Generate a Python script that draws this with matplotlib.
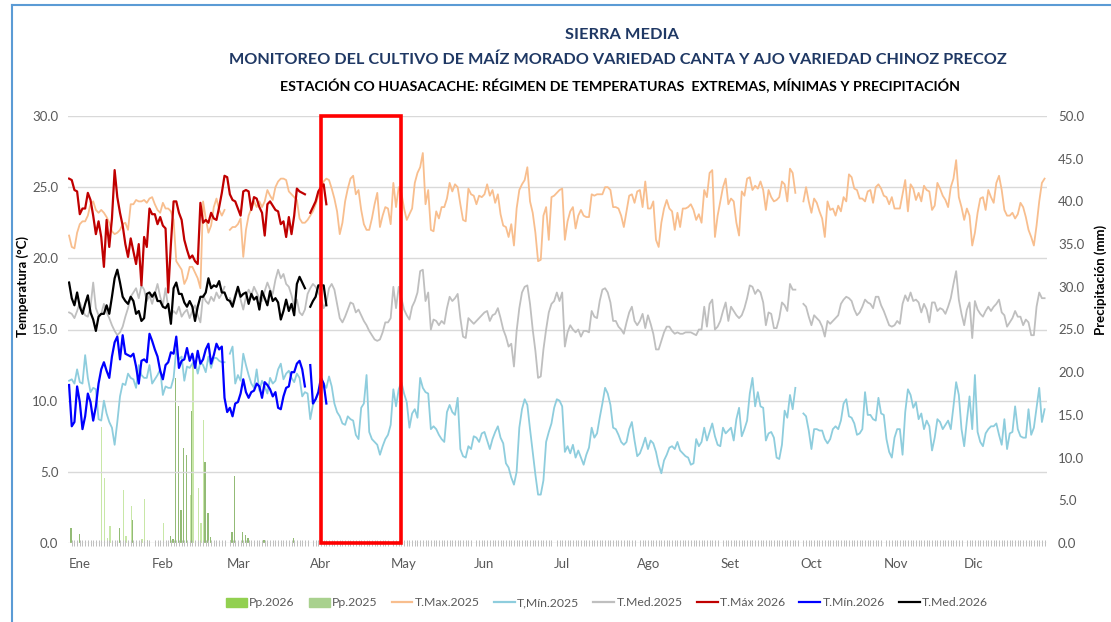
import numpy as np
import matplotlib
matplotlib.use('Agg')
import matplotlib.pyplot as plt
from matplotlib.patches import Rectangle, Patch
from matplotlib.lines import Line2D

plt.rcParams['font.family'] = ['Lato', 'DejaVu Sans']
nan = np.nan

# ---- datos diarios 2025 (dia 0 = 1 de enero) ----
tmax2025 = [
    21.6, 20.8, 20.7, 21.8, 22.4, 22.6, 22.6, 23.0, 23.8, 24.0,
    23.4, 23.2, 23.4, 23.2, 22.9, 22.5, 21.9, 21.7, 21.8, 22.0,
    22.4, 22.5, 22.0, 23.8, 23.8, 24.1, 24.0, 24.0, 24.1, 23.9,
    24.2, 24.3, 23.8, 23.4, 23.2, 23.9, 23.5, 23.5, 23.3, 22.7,
    19.8, 19.5, 19.2, 18.2, 18.6, 19.4, 19.4, 19.0, 18.6, 17.9,
    24.0, 22.8, 21.8, 22.3, 23.6, 24.2, 23.4, 23.0, 23.4, nan,
    22.0, 22.2, 22.2, 22.4, 22.8, 20.1, 22.0, 23.0, 23.5, 24.0,
    23.6, 24.0, 23.6, 24.0, 24.8, 24.4, 24.1, 25.0, 25.4, 25.6,
    25.6, 25.5, 24.7, 24.5, 24.3, 24.1, 22.8, 22.5, 22.5, 22.7,
    23.0, 23.3, 23.8, 24.4, 25.0, 25.4, 25.6, 25.5, 24.9, 24.2,
    23.3, 21.7, 22.5, 24.0, 24.9, 25.6, 25.8, 24.5, 24.8, 23.4,
    22.4, 22.0, 22.0, 22.8, 23.8, 24.6, 22.2, 23.0, 23.6, 23.5,
    22.4, 25.3, 23.6, 25.0, 24.6, 23.5, 22.7, 23.1, 23.5, 25.3,
    26.0, 26.4, 27.4, 23.8, 24.8, 22.0, 21.9, 23.3, 22.8, 23.6,
    23.6, 24.2, 25.3, 24.7, 25.2, 25.0, 23.8, 22.7, 22.6, 24.9,
    24.5, 24.4, 23.8, 24.4, 24.3, 24.5, 25.2, 24.4, 24.8, 23.9,
    24.5, 23.1, 22.3, 22.2, 21.5, 22.4, 20.9, 23.5, 24.8, 25.2,
    25.5, 26.4, 24.0, 23.2, 21.8, 19.8, 19.9, 23.0, 23.6, 21.3,
    24.3, 24.4, 24.6, 24.8, 24.9, 21.3, 22.6, 23.3, 23.6, 22.1,
    23.0, 23.4, 23.0, 22.9, 22.9, 24.5, 24.4, 24.5, 24.5, 24.5,
    25.0, 25.0, 24.8, 23.6, 23.6, 23.5, 23.0, 22.2, 23.3, 24.4,
    24.5, 23.9, 24.7, 24.8, 23.6, 25.4, 23.5, 23.5, 24.0, 21.3,
    20.8, 22.5, 23.5, 24.1, 23.5, 23.3, 22.0, 23.2, 22.2, 23.5,
    23.5, 23.6, 23.8, 23.4, 22.7, 23.1, 22.5, 24.8, 24.3, 26.0,
    26.2, 21.5, 23.0, 24.0, 25.0, 25.6, 23.8, 24.2, 24.0, 22.5,
    21.6, 24.7, 24.4, 25.6, 25.7, 24.8, 25.1, 24.9, 25.4, 24.8,
    23.4, 24.8, 24.3, 24.0, 24.1, 24.3, 25.4, 25.2, 24.0, 26.3,
    26.0, 24.6, nan, nan, 24.0, 25.0, 24.0, 23.2, 24.2, 23.9,
    23.3, 22.8, 21.5, 24.0, 23.4, 23.5, 23.0, 23.7, 23.3, 24.3,
    24.0, 25.9, 25.7, 24.9, 24.8, 24.2, 24.2, 24.0, 24.7, 24.8,
    23.9, 25.0, 25.2, 24.9, 24.4, 24.3, 23.8, 24.3, 23.5, 23.5,
    23.5, 24.5, 25.5, 23.3, 25.2, 24.9, 24.1, 24.6, 24.0, 25.1,
    24.8, 24.7, 23.4, 23.7, 25.3, 24.9, 24.4, 24.1, 23.6, 25.0,
    25.6, 26.9, 24.3, 23.6, 22.7, 23.5, 23.0, 20.9, 21.8, 23.2,
    24.2, 24.3, 23.4, 24.8, 24.3, 23.9, 25.3, 25.8, 24.8, 23.4,
    23.0, 23.0, 23.2, 22.8, 23.1, 23.9, 23.6, 22.9, 22.0, 21.5,
    20.9, 22.3, 24.0, 25.3, 25.6]

tmin2025 = [
    11.4, 11.5, 11.2, 12.2, 11.3, 11.2, 13.2, 11.6, 10.6, 10.9,
    10.8, 8.7, 8.6, 10.0, 9.1, 8.5, 8.1, 6.9, 8.5, 10.3,
    11.2, 11.1, 11.9, 11.6, 11.5, 10.9, 12.5, 11.8, 11.6, 11.6,
    12.5, 11.2, 11.5, 11.8, 12.2, 10.4, 11.0, 10.9, 10.9, 11.6,
    13.6, 12.9, 13.1, 11.4, 12.4, 12.3, 12.6, 12.8, 11.9, 12.7,
    12.5, 12.0, 13.1, 12.3, 13.0, 13.0, 12.8, 12.7, 12.7, nan,
    13.3, 13.8, 11.2, 11.8, 11.4, 13.3, 12.5, 11.8, 11.2, 10.9,
    12.2, 10.7, 11.4, 11.0, 10.5, 11.6, 11.2, 11.4, 12.2, 12.6,
    11.5, 11.9, 12.1, 11.6, 11.3, 11.9, 11.6, 10.3, 10.6, 10.5,
    8.7, 9.7, 10.1, 10.5, 10.8, 11.2, 10.9, 11.7, 11.0, 9.8,
    9.2, 8.9, 8.4, 8.3, 8.9, 8.7, 8.6, 7.6, 7.3, 9.5,
    9.8, 11.8, 7.8, 7.3, 7.1, 6.9, 6.2, 6.8, 7.3, 7.6,
    8.3, 10.8, 9.6, 10.8, 11.3, 10.5, 9.9, 8.1, 9.1, 9.4,
    8.8, 11.6, 10.9, 10.6, 10.5, 8.0, 8.2, 8.0, 7.6, 7.3,
    7.1, 9.2, 9.7, 9.2, 9.0, 10.2, 6.6, 6.1, 6.0, 6.8,
    6.6, 7.5, 7.4, 7.1, 7.7, 7.8, 7.2, 6.6, 7.3, 7.8,
    8.2, 7.4, 7.0, 5.6, 5.3, 4.6, 4.1, 5.0, 8.1, 9.4,
    10.1, 9.7, 8.0, 6.4, 4.8, 3.4, 3.4, 4.4, 7.1, 7.8,
    8.4, 9.5, 10.1, 10.0, 9.6, 6.4, 6.8, 6.3, 6.9, 6.0,
    6.5, 6.0, 5.5, 6.2, 6.7, 8.1, 7.4, 7.7, 8.8, 9.8,
    10.9, 10.5, 9.7, 8.1, 8.0, 7.6, 7.1, 6.9, 7.1, 8.0,
    8.5, 7.2, 6.1, 6.3, 6.8, 7.4, 6.6, 7.2, 7.0, 6.4,
    5.5, 4.9, 5.8, 6.2, 6.7, 6.8, 6.6, 7.1, 6.5, 6.3,
    6.1, 6.0, 5.5, 5.6, 7.3, 6.8, 7.1, 8.1, 7.2, 7.8,
    8.4, 7.5, 6.9, 6.8, 8.1, 7.7, 7.9, 8.1, 7.2, 8.7,
    9.5, 7.5, 8.0, 8.6, 10.5, 11.6, 9.6, 10.6, 9.6, 9.5,
    7.2, 7.7, 7.8, 7.4, 6.0, 5.9, 6.9, 9.3, 8.8, 10.4,
    9.4, 10.9, nan, nan, 9.1, 8.9, 7.9, 6.6, 8.0, 8.0,
    7.9, 7.9, 7.3, 7.0, 7.3, 8.0, 8.2, 8.0, 8.6, 9.8,
    10.1, 8.9, 8.8, 8.4, 7.6, 7.7, 8.0, 10.6, 9.0, 9.0,
    8.7, 8.6, 10.2, 9.1, 9.0, 7.3, 6.4, 6.0, 7.4, 8.0,
    8.0, 6.2, 9.2, 10.8, 10.4, 9.5, 9.9, 8.7, 9.1, 8.0,
    8.6, 8.2, 6.5, 7.4, 8.7, 8.5, 8.0, 8.3, 8.6, 8.0,
    9.6, 11.3, 10.4, 8.0, 6.8, 8.6, 10.3, 8.0, 11.8, 7.8,
    7.1, 6.8, 7.7, 8.0, 8.2, 8.2, 8.4, 7.6, 6.9, 8.7,
    6.6, 7.7, 7.8, 9.6, 8.0, 7.5, 7.4, 7.4, 9.4, 7.6,
    8.1, 9.5, 10.9, 8.5, 9.4]

tmed2025 = [
    16.2, 16.1, 15.8, 16.3, 16.9, 16.4, 16.0, 15.9, 16.6, 18.3,
    16.5, 16.0, 16.1, 16.8, 16.2, 15.8, 15.3, 14.9, 14.6, 14.8,
    15.2, 15.9, 16.5, 17.3, 17.6, 17.9, 17.2, 18.1, 17.8, 17.0,
    17.4, 16.8, 17.5, 18.2, 17.3, 16.7, 17.9, 16.5, 16.0, 16.3,
    16.1, 16.6, 15.9, 16.2, 16.4, 15.8, 16.3, 16.7, 16.0, 15.5,
    17.4, 17.0, 16.8, 17.3, 17.0, 17.6, 17.2, 17.5, 18.0, nan,
    17.2, 16.8, 17.5, 17.9, 17.1, 16.4, 17.3, 17.8, 17.4, 18.0,
    17.6, 17.2, 17.0, 17.7, 18.3, 17.8, 17.5, 18.5, 19.2, 18.6,
    18.9, 18.2, 18.0, 17.4, 16.6, 17.1, 16.2, 16.0, 16.4, 17.5,
    17.9, 18.2, 18.0, 17.6, 17.2, 16.5, 16.9, 17.9, 18.2, 17.8,
    16.8, 15.8, 15.5, 15.9, 16.4, 16.9, 16.8, 16.2, 16.4, 16.0,
    15.6, 15.3, 14.9, 14.6, 14.3, 14.2, 14.3, 14.8, 15.5, 15.5,
    15.8, 18.0, 16.5, 18.0, 17.2, 16.4, 16.0, 15.7, 16.6, 17.0,
    17.6, 19.1, 19.2, 17.0, 17.6, 15.0, 15.7, 15.6, 15.3, 15.6,
    15.4, 16.5, 17.3, 17.0, 17.2, 17.5, 15.8, 14.5, 14.4, 15.8,
    15.6, 15.4, 15.6, 15.8, 16.0, 16.2, 16.3, 15.6, 16.0, 16.1,
    16.5, 15.8, 15.0, 14.5, 13.8, 14.0, 12.4, 14.9, 16.5, 17.6,
    18.0, 18.1, 16.8, 15.0, 13.5, 11.6, 11.7, 13.6, 15.0, 16.2,
    16.8, 17.0, 17.6, 17.0, 17.6, 13.8, 14.8, 15.3, 15.0, 14.8,
    15.0, 14.5, 14.9, 14.9, 14.8, 16.3, 15.9, 15.8, 17.0, 17.8,
    17.9, 17.6, 16.9, 15.6, 15.6, 15.2, 15.0, 14.7, 15.5, 16.2,
    16.6, 15.6, 15.3, 15.6, 16.1, 15.1, 16.0, 15.4, 14.7, 13.6,
    13.6, 14.2, 14.8, 15.2, 15.2, 14.9, 14.7, 14.8, 14.7, 14.7,
    14.8, 14.8, 14.8, 14.7, 14.6, 15.0, 15.0, 16.6, 15.2, 16.8,
    17.1, 15.0, 15.2, 15.6, 16.3, 16.9, 15.6, 16.6, 16.3, 16.0,
    15.8, 16.0, 16.5, 17.2, 18.1, 18.0, 17.5, 17.8, 17.6, 16.9,
    15.3, 16.2, 16.1, 15.1, 15.1, 15.8, 16.9, 16.7, 16.3, 18.2,
    17.8, 17.8, nan, nan, 16.8, 16.6, 15.9, 15.3, 16.0, 15.8,
    15.6, 15.2, 14.5, 15.6, 15.4, 15.6, 15.8, 16.0, 16.8, 17.1,
    17.3, 17.2, 17.0, 16.4, 16.0, 16.2, 16.6, 17.1, 16.9, 16.8,
    16.5, 17.3, 17.3, 16.7, 16.3, 15.8, 15.3, 15.2, 15.3, 15.6,
    15.4, 16.8, 17.4, 17.0, 17.6, 17.0, 17.1, 16.9, 16.2, 16.8,
    16.4, 15.5, 16.9, 16.9, 16.3, 16.5, 16.4, 16.1, 16.6, 17.2,
    18.2, 19.1, 17.1, 16.1, 15.3, 16.4, 16.9, 14.4, 17.0, 16.4,
    16.1, 15.9, 16.3, 16.6, 16.3, 16.6, 16.8, 17.1, 16.2, 16.0,
    15.2, 15.5, 15.8, 16.3, 15.9, 15.9, 15.3, 15.7, 15.5, 14.6,
    14.6, 16.6, 17.6, 17.2, 17.2]

# ---- datos diarios 2026 ----
tmax2026 = [
    25.6, 25.5, 24.8, 24.7, 23.1, 23.5, 23.5, 24.6, 24.1, 23.0,
    21.7, 22.6, 21.5, 19.4, 22.7, 20.8, 22.8, 26.2, 24.3, 23.2,
    22.3, 21.0, 20.1, 21.4, 20.5, 19.6, 21.0, 18.1, 21.5, 20.8,
    23.5, 23.1, 23.1, 22.4, 22.9, 22.3, 22.1, 17.6, 21.0, 24.0,
    24.0, 23.2, 22.7, 21.3, 20.6, 20.0, 20.2, 19.8, 19.6, 23.9,
    22.5, 22.7, 22.5, 23.2, 22.8, 22.7, 23.6, 24.6, 25.8, 25.7,
    24.5, 24.1, 24.0, 23.5, 23.0, 24.7, 24.8, 24.7, 23.4, 24.3,
    24.2, 23.6, 23.2, 21.6, 23.8, 24.0, 23.7, 23.4, 23.3, 22.4,
    22.6, 21.5, 22.9, 21.7, 23.0, 24.9, 24.7, 24.6, 24.5, nan,
    23.2, 23.6, 24.0, 24.7, 25.0, 25.2, 23.8]

tmin2026 = [
    11.1, 8.2, 8.5, 11.0, 9.9, 8.0, 8.9, 10.5, 9.9, 8.6,
    9.6, 11.2, 12.2, 12.7, 12.1, 11.6, 13.1, 14.1, 14.5, 12.9,
    14.6, 13.3, 13.2, 13.1, 13.3, 12.4, 11.2, 12.8, 12.9, 12.7,
    14.7, 14.2, 13.6, 13.1, 12.1, 11.5, 12.5, 12.7, 13.4, 13.3,
    14.5, 12.3, 12.8, 12.9, 13.7, 12.8, 13.3, 12.3, 13.5, 12.6,
    12.9, 13.6, 14.0, 12.6, 13.2, 14.0, 13.6, 13.8, 10.2, 9.2,
    9.5, 8.9, 9.8, 9.9, 10.5, 11.5, 10.6, 10.2, 10.6, 10.7,
    11.2, 11.0, 10.2, 11.3, 11.1, 10.8, 10.3, 10.6, 9.5, 9.4,
    10.3, 10.9, 11.0, 12.0, 12.0, 12.6, 12.8, 12.2, 11.0, nan,
    12.5, 9.8, 10.1, 10.6, 11.6, 11.2, 9.8]

tmed2026 = [
    18.3, 17.2, 16.7, 17.6, 16.6, 16.1, 16.8, 17.4, 16.2, 15.7,
    14.9, 15.9, 16.1, 16.1, 16.7, 16.1, 17.3, 18.6, 19.2, 18.3,
    17.3, 17.0, 16.8, 17.3, 17.0, 16.1, 16.3, 15.6, 15.8, 17.5,
    17.6, 17.3, 17.6, 17.0, 17.0, 16.6, 16.5, 16.8, 15.4, 17.9,
    18.3, 17.5, 17.5, 16.9, 16.6, 17.0, 16.6, 15.6, 16.6, 17.3,
    17.3, 17.6, 18.6, 17.9, 18.1, 18.0, 18.4, 17.6, 17.6, 17.1,
    17.0, 16.6, 17.3, 18.0, 17.3, 17.5, 17.6, 16.8, 17.5, 17.1,
    17.3, 16.4, 17.7, 17.2, 16.7, 17.7, 17.0, 17.2, 16.9, 15.7,
    16.3, 17.1, 16.3, 16.8, 16.0, 18.2, 18.7, 18.3, 17.9, nan,
    16.6, 17.0, 17.3, 18.1, 18.1, 18.1, 16.7]

# ---- precipitacion (mm), dias con lluvia ----
pp2025_dia = [1, 4, 19, 24, 38, 39, 40, 41, 42, 43, 44, 46, 51, 52, 53, 61, 62, 65, 66, 67, 73, 84]
pp2025_mm = [1.7, 1.1, 1.7, 2.7, 0.8, 0.5, 19.3, 16.0, 3.9, 11.1, 10.3, 15.4, 9.5, 3.5, 0.7, 1.3, 7.8, 1.3, 0.9, 0.6, 0.4, 0.6]
pp2026_dia = [12, 13, 14, 15, 20, 21, 23, 27, 28, 29, 35, 45, 46, 48, 49, 50, 60]
pp2026_mm = [13.6, 7.6, 0.6, 2.0, 6.2, 0.8, 4.3, 0.5, 5.2, 0.3, 2.3, 5.6, 21.0, 6.4, 2.3, 14.4, 0.4]

meses = ['Ene', 'Feb', 'Mar', 'Abr', 'May', 'Jun', 'Jul', 'Ago', 'Set', 'Oct', 'Nov', 'Dic']
inicio_mes = [0, 31, 59, 90, 120, 151, 181, 212, 243, 273, 304, 334]

dias25 = np.arange(len(tmax2025))
dias26 = np.arange(len(tmax2026))

fig = plt.figure(figsize=(11.11, 6.22), dpi=100)
ax = fig.add_axes([68 / 1111, 79 / 622, 979 / 1111, 427 / 622])
ax2 = ax.twinx()

# barras de precipitacion en eje derecho
ax2.bar(np.array(pp2025_dia) - 0.22, pp2025_mm, width=0.5, color='#93BB76', linewidth=0)
ax2.bar(np.array(pp2026_dia) + 0.22, pp2026_mm, width=0.5, color='#92D050', alpha=0.5, linewidth=0)
ax2.set_ylim(0, 50)
ax2.set_yticks(np.arange(0, 51, 5))
ax2.set_yticklabels(['%.1f' % v for v in np.arange(0, 51, 5)])

# temperaturas en eje izquierdo
ax.plot(dias25, tmax2025, color='#F8BE8E', lw=1.3)
ax.plot(dias25, tmin2025, color='#8ECDDD', lw=1.3)
ax.plot(dias25, tmed2025, color='#BFBFBF', lw=1.3)
ax.plot(dias26, tmax2026, color='#C00000', lw=1.6)
ax.plot(dias26, tmin2026, color='#0000FF', lw=1.6)
ax.plot(dias26, tmed2026, color='#000000', lw=1.6)

ax.set_zorder(ax2.get_zorder() + 1)
ax.patch.set_visible(False)

ax.set_ylim(0, 30)
ax.set_yticks(np.arange(0, 31, 5))
ax.set_yticklabels(['%.1f' % v for v in np.arange(0, 31, 5)])
ax.set_xlim(-0.4, 364.9)
ax.set_xticks(inicio_mes)
ax.set_xticklabels(meses, ha='left')
ax.set_xticks(dias25, minor=True)
ax.yaxis.grid(True, color='#D9D9D9', lw=1)

for a in (ax, ax2):
    for s in a.spines.values():
        s.set_visible(False)
ax.tick_params(axis='x', which='major', length=0, pad=11, labelsize=9.5, labelcolor='#595959')
ax.tick_params(axis='x', which='minor', length=5, width=0.7, color='#BDBDBD', direction='inout')
ax.tick_params(axis='y', length=0, pad=7, labelsize=9.5, labelcolor='#595959')
ax2.tick_params(axis='y', length=0, pad=8, labelsize=9.5, labelcolor='#595959')

# recuadro de abril
ax.add_patch(Rectangle((94, 0), 30, 30, fill=False, ec='#FF0000', lw=2.6, clip_on=False, zorder=20))

# titulos y ejes
fig.text(622 / 1111, 1 - 35 / 622, 'SIERRA MEDIA', ha='center', va='center',
         fontsize=11.8, fontweight='bold', color='#1F3864')
fig.text(618 / 1111, 1 - 60 / 622,
         'MONITOREO DEL CULTIVO DE MAÍZ MORADO VARIEDAD CANTA Y AJO VARIEDAD CHINOZ PRECOZ',
         ha='center', va='center', fontsize=11.7, fontweight='bold', color='#1F3864')
fig.text(620 / 1111, 1 - 86 / 622,
         'ESTACIÓN CO HUASACACHE: RÉGIMEN DE TEMPERATURAS  EXTREMAS, MÍNIMAS Y PRECIPITACIÓN',
         ha='center', va='center', fontsize=10.3, fontweight='bold', color='#000000')
fig.text(23 / 1111, 1 - 287 / 622, 'Temperatura (°C)', rotation=90, ha='center', va='center',
         fontsize=9.5, fontweight='bold')
fig.text(1101 / 1111, 1 - 280 / 622, 'Precipitación (mm)', rotation=90, ha='center', va='center',
         fontsize=9.5, fontweight='bold')

# leyenda
handles = [Patch(color='#92D050'), Patch(color='#A9D18E'),
           Line2D([], [], color='#F8BE8E', lw=1.6), Line2D([], [], color='#8ECDDD', lw=1.6),
           Line2D([], [], color='#BFBFBF', lw=1.6), Line2D([], [], color='#C00000', lw=1.6),
           Line2D([], [], color='#0000FF', lw=1.6), Line2D([], [], color='#000000', lw=1.6)]
labels = ['Pp.2026', 'Pp.2025', 'T.Max.2025', 'T,Mín.2025', 'T.Med.2025', 'T.Máx 2026', 'T.Mín.2026', 'T.Med.2026']
leg = fig.legend(handles, labels, loc='center', bbox_to_anchor=(607 / 1111, 1 - 603 / 622), ncol=8,
                 frameon=False, fontsize=8.8, handlelength=1.7, handleheight=0.7, handletextpad=0.2,
                 columnspacing=1.15)
for t in leg.get_texts():
    t.set_color('#595959')

# marco
fig.add_artist(Line2D([12 / 1111, 12 / 1111], [0, 1 - 5 / 622], color='#5B9BD5', lw=1.5))
fig.add_artist(Line2D([12 / 1111, 1], [1 - 5 / 622, 1 - 5 / 622], color='#5B9BD5', lw=1.5))

fig.savefig('out.png', dpi=100)
